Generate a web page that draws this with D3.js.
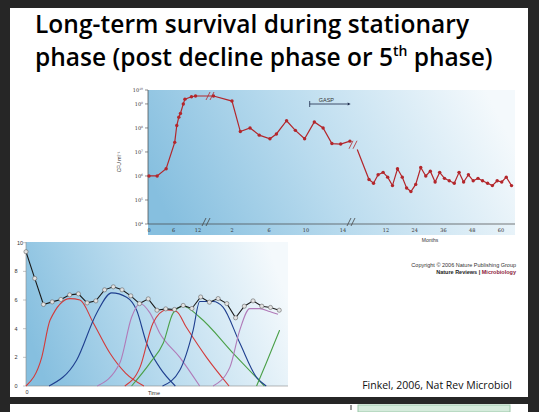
<!DOCTYPE html>
<html lang="en">
<head>
<meta charset="UTF-8">
<title>Long-term survival</title>
<script src="https://d3js.org/d3.v7.min.js"></script>
<style>
  body { margin: 0; background: #262626; }
  svg { display: block; }
</style>
</head>
<body>
<svg id="chart" width="539" height="412"></svg>
<script>
// ---- top chart data (log10 CFU/ml) ----
var hours    = [0, 2, 4.2, 6.3, 6.8, 7.3, 7.7, 8.4, 8.8, 10.4, 11.4];
var hoursLog = [6.0, 6.0, 6.3, 7.4, 8.1, 8.45, 8.6, 9.0, 9.2, 9.3, 9.33];
var days     = [0, 2, 2.9, 3.95, 4.95, 6.1, 6.8, 7.9, 8.85, 9.85, 10.9, 11.85, 12.8, 13.75, 14.75];
var daysLog  = [9.33, 9.12, 7.85, 8.0, 7.7, 7.55, 7.75, 8.3, 7.9, 7.55, 8.25, 8.0, 7.35, 7.33, 7.45];
var months   = [0, 4.9, 6.8, 8.7, 10.8, 12.7, 14.7, 16.8, 18.8, 20.6, 22.4, 24.4, 26.5, 28.6, 30.5, 32.5, 34.4, 36.4, 38.4, 40.5, 42.5, 44.4, 46.4, 48.4, 50.4, 52.3, 54.4, 56.4, 58.4, 60.3, 62.2, 64.4];
var monthsLog= [7.1, 5.85, 5.7, 6.05, 6.15, 5.95, 5.6, 6.3, 5.95, 5.5, 5.35, 5.65, 6.35, 6.0, 6.2, 5.75, 6.15, 5.9, 5.8, 5.7, 6.15, 5.75, 6.05, 5.8, 5.9, 5.8, 5.7, 5.6, 5.8, 5.75, 5.95, 5.6];
var hourTicks = [0, 6, 12], dayTicks = [2, 6, 10, 14], monthTicks = [12, 24, 36, 48, 60];
var yExps = [4, 5, 6, 7, 8, 9];

// ---- bottom chart data ----
var popT = d3.range(30).map(function (i) { return i * 3.333; });
popT[24] = 80;
var popV = [9.37, 7.51, 5.69, 5.87, 6.04, 6.36, 6.43, 5.80, 5.94, 6.71, 6.92, 6.71, 6.29, 5.75, 6.08,
            5.29, 5.38, 5.34, 5.62, 5.41, 6.21, 5.85, 6.10, 5.75, 4.76, 5.57, 5.94, 5.57, 5.48, 5.29];
var waves = [
  { color: "#d33a3a", t: [0, 6, 9.2, 16.8, 20.6, 25.7, 32, 38, 45], v: [0, 2, 4.6, 6.1, 6.0, 4.4, 2.3, 0.9, 0] },
  { color: "#1f3f8f", t: [8.8, 19.3, 27, 32.7, 38.4, 42.2, 46, 51, 57], v: [0, 1.8, 5.1, 6.5, 6.2, 5.3, 3, 1.3, 0] },
  { color: "#b07ab8", t: [27.2, 35.8, 40.3, 43.5, 47.3, 51, 58.7, 66.3], v: [0, 1.6, 4.8, 5.76, 5.1, 3.7, 2, 0] },
  { color: "#d33a3a", t: [37.7, 43.5, 48.5, 53.6, 57.4, 61.2, 68.9, 77.5], v: [0, 1.3, 4.4, 5.3, 5.2, 4.1, 2, 0] },
  { color: "#4aa048", t: [40.3, 47.3, 52.4, 56.2, 60, 66.3, 79, 91], v: [0, 1.6, 3, 5.1, 5.57, 4.8, 2.3, 0] },
  { color: "#1f3f8f", t: [52.1, 58.7, 63.8, 66.3, 71.4, 75.2, 81.6, 88, 91.7], v: [0, 1.1, 3.9, 5.9, 5.9, 5.5, 3, 0.6, 0] },
  { color: "#b07ab8", t: [71.4, 77.8, 81.6, 85.4, 89.2, 93, 96.2], v: [0, 1.3, 3.9, 5.4, 5.4, 5.2, 5.0] },
  { color: "#4aa048", t: [88, 91.7, 96.8], v: [0, 1.6, 3.9] }
];
var bottomYTicks = [0, 2, 4, 6, 8, 10];

var svg = d3.select("#chart");
var defs = svg.append("defs");
function grad(id) {
  var g = defs.append("linearGradient").attr("id", id).attr("x1", "0").attr("y1", "0.6").attr("x2", "1").attr("y2", "0.4");
  g.append("stop").attr("offset", "0").attr("stop-color", "#86bfdf");
  g.append("stop").attr("offset", "0.45").attr("stop-color", "#b9dbee");
  g.append("stop").attr("offset", "1").attr("stop-color", "#f4f9fc");
}
grad("bgTop"); grad("bgBot");

// slide
svg.append("rect").attr("x", 10).attr("y", 8).attr("width", 518).attr("height", 389).attr("fill", "#fff");
svg.append("rect").attr("x", 10).attr("y", 404).attr("width", 518).attr("height", 8).attr("fill", "#fff");
svg.append("rect").attr("x", 358).attr("y", 405).attr("width", 152).attr("height", 7).attr("fill", "#d5ebdc").attr("stroke", "#9cc8aa");
svg.append("line").attr("x1", 351).attr("x2", 351).attr("y1", 405).attr("y2", 410).attr("stroke", "#333");

svg.append("text").attr("x", 35).attr("y", 33).attr("font-family", "Open Sans").attr("font-weight", 600)
  .attr("font-size", 24.5).attr("textLength", 434).attr("fill", "#000").text("Long-term survival during stationary");
var t2 = svg.append("text").attr("x", 35).attr("y", 66).attr("font-family", "Open Sans").attr("font-weight", 600)
  .attr("font-size", 24.5).attr("fill", "#000");
t2.append("tspan").text("phase (post decline phase or 5");
t2.append("tspan").attr("font-size", 14).attr("dy", -10).text("th");
t2.append("tspan").attr("dy", 10).text(" phase)");

// ---- top chart ----
var top0 = 90, bot0 = 224;
svg.append("rect").attr("x", 148).attr("y", top0).attr("width", 367).attr("height", 145).attr("fill", "url(#bgTop)");
var y = d3.scaleLinear().domain([4, 9.58]).range([bot0, top0]);
var xh = d3.scaleLinear().domain([0, 12]).range([149, 198]);
var xd = d3.scaleLinear().domain([2, 14]).range([232, 343]);
var xm = d3.scaleLinear().domain([12, 60]).range([386, 501]);
var red = "#b3262b";
var ax = svg.append("g").attr("font-family", "DejaVu Serif").attr("font-size", 5).attr("fill", "#333");
ax.append("line").attr("x1", 148).attr("x2", 148).attr("y1", top0).attr("y2", bot0).attr("stroke", "#444").attr("stroke-width", 0.7);
ax.append("line").attr("x1", 148).attr("x2", 515).attr("y1", bot0).attr("y2", bot0).attr("stroke", "#444").attr("stroke-width", 0.7);
yExps.concat([9.58]).forEach(function (e) {
  ax.append("line").attr("x1", 145).attr("x2", 148).attr("y1", y(e)).attr("y2", y(e)).attr("stroke", "#444").attr("stroke-width", 0.6);
  var tx = ax.append("text").attr("x", 143).attr("y", y(e) + 2).attr("text-anchor", "end").text("10");
  tx.append("tspan").attr("font-size", 3).attr("dy", -2).text(e === 9.58 ? "10" : e);
});
function xt(scale, ticks) {
  ticks.forEach(function (v) {
    ax.append("text").attr("x", scale(v)).attr("y", bot0 + 8).attr("text-anchor", "middle").text(v);
  });
}
xt(xh, hourTicks); xt(xd, dayTicks); xt(xm, monthTicks);
ax.append("text").attr("x", 430).attr("y", 242).attr("text-anchor", "middle").attr("font-family", "Liberation Sans").text("Months");
ax.append("text").attr("transform", "translate(121,162) rotate(-90)").attr("text-anchor", "middle")
  .attr("font-family", "Liberation Sans").text("CFU ml⁻¹");
function brk(cx, cy, col) {
  [-2, 2].forEach(function (d) {
    svg.append("line").attr("x1", cx + d - 2).attr("x2", cx + d + 2).attr("y1", cy + 4).attr("y2", cy - 4)
      .attr("stroke", col).attr("stroke-width", 0.8);
  });
}
brk(206, bot0 - 2, "#444"); brk(351, bot0 - 2, "#444");

var seg1 = [];
hours.forEach(function (h, i) { seg1.push([xh(h), y(hoursLog[i])]); });
days.forEach(function (d, i) { seg1.push([xd(d), y(daysLog[i])]); });
var seg2 = months.map(function (m, i) { return [xm(m), y(monthsLog[i])]; });
var line = d3.line();
[seg1, seg2].forEach(function (s) {
  svg.append("path").attr("d", line(s)).attr("fill", "none").attr("stroke", red).attr("stroke-width", 1.2);
});
seg1.concat(seg2).forEach(function (p, i) {
  if (i === seg1.length) return;
  svg.append("circle").attr("cx", p[0]).attr("cy", p[1]).attr("r", 1.7).attr("fill", red);
});
brk(210, y(9.33), red); brk(353, y(7.3), red);
// GASP arrow
svg.append("line").attr("x1", xd(10.4)).attr("x2", xd(14.5)).attr("y1", 104).attr("y2", 104).attr("stroke", "#1c2a4a").attr("stroke-width", 0.8);
svg.append("line").attr("x1", xd(10.4)).attr("x2", xd(10.4)).attr("y1", 101).attr("y2", 107).attr("stroke", "#1c2a4a").attr("stroke-width", 0.8);
svg.append("path").attr("d", d3.line()([[xd(14.5), 102.5], [xd(14.5) + 3, 104], [xd(14.5), 105.5]])).attr("fill", "#1c2a4a");
svg.append("text").attr("x", xd(12.2)).attr("y", 102).attr("text-anchor", "middle").attr("font-family", "Liberation Sans")
  .attr("font-size", 5.5).attr("fill", "#333").text("GASP");

svg.append("text").attr("x", 516).attr("y", 267).attr("text-anchor", "end").attr("font-family", "Liberation Sans")
  .attr("font-size", 5.5).attr("fill", "#333").text("Copyright © 2006 Nature Publishing Group");
var nr = svg.append("text").attr("x", 516).attr("y", 274).attr("text-anchor", "end").attr("font-family", "Liberation Sans")
  .attr("font-size", 5.5).attr("font-weight", "bold").attr("fill", "#222");
nr.append("tspan").text("Nature Reviews | ");
nr.append("tspan").attr("fill", "#8b1a3a").text("Microbiology");
svg.append("text").attr("x", 512).attr("y", 389).attr("text-anchor", "end").attr("font-family", "Open Sans")
  .attr("font-size", 10.5).attr("fill", "#111").text("Finkel, 2006, Nat Rev Microbiol");

// ---- bottom chart ----
svg.append("rect").attr("x", 10).attr("y", 238).attr("width", 280).attr("height", 159).attr("fill", "#fff");
svg.append("rect").attr("x", 26).attr("y", 242).attr("width", 262).attr("height", 144).attr("fill", "url(#bgBot)");
var bx = d3.scaleLinear().domain([0, 100]).range([26, 288]);
var by = d3.scaleLinear().domain([0, 10]).range([386, 242.7]);
var bax = svg.append("g").attr("font-family", "Liberation Sans").attr("font-size", 5.5).attr("fill", "#333");
bax.append("line").attr("x1", 26).attr("x2", 26).attr("y1", 242).attr("y2", 386).attr("stroke", "#888").attr("stroke-width", 0.6);
bax.append("line").attr("x1", 26).attr("x2", 288).attr("y1", 386).attr("y2", 386).attr("stroke", "#888").attr("stroke-width", 0.6);
bottomYTicks.forEach(function (v) {
  bax.append("line").attr("x1", 23).attr("x2", 26).attr("y1", by(v)).attr("y2", by(v)).attr("stroke", "#888").attr("stroke-width", 0.5);
  bax.append("text").attr("x", v === 10 ? 20 : 16).attr("y", by(v) + 2).attr("text-anchor", "middle").text(v);
});
bax.append("text").attr("x", 27).attr("y", 394).attr("text-anchor", "middle").text("0");
bax.append("text").attr("x", 154).attr("y", 395).attr("text-anchor", "middle").text("Time");

var wl = d3.line().curve(d3.curveMonotoneX);
waves.forEach(function (w) {
  svg.append("path").attr("d", wl(w.t.map(function (t, i) { return [bx(t), by(w.v[i])]; })))
    .attr("fill", "none").attr("stroke", w.color).attr("stroke-width", 1.1);
});
var pp = popT.map(function (t, i) { return [bx(t), by(popV[i])]; });
svg.append("path").attr("d", d3.line()(pp)).attr("fill", "none").attr("stroke", "#1a1a1a").attr("stroke-width", 1.1);
pp.forEach(function (p) {
  svg.append("circle").attr("cx", p[0]).attr("cy", p[1]).attr("r", 2.1).attr("fill", "#e2e2e2").attr("stroke", "#666").attr("stroke-width", 0.6);
});
</script>
</body>
</html>
